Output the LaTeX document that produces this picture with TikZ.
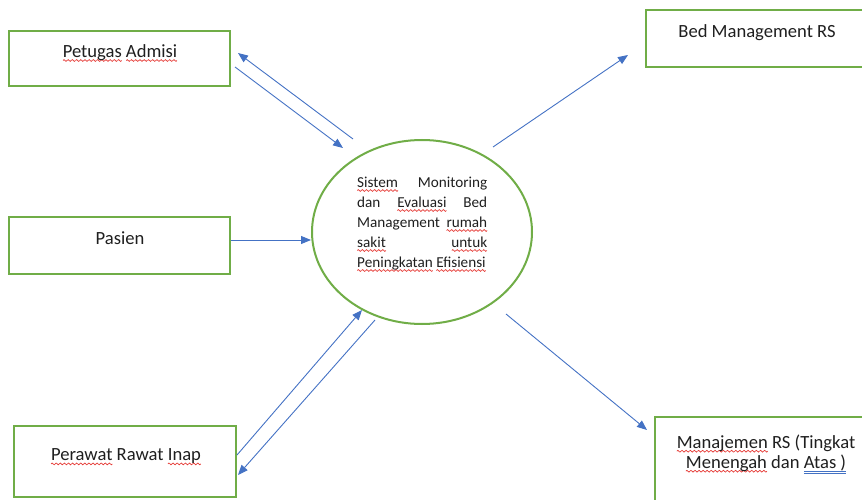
\documentclass[tikz,border=0pt]{standalone}
\usepackage{fontspec}
\setmainfont{Carlito}
\usetikzlibrary{arrows.meta,shapes.geometric}

\definecolor{boxgreen}{HTML}{70AD47}
\definecolor{flowblue}{HTML}{4472C4}
\definecolor{squigred}{HTML}{E53935}
\definecolor{inkgray}{HTML}{1F1F1F}

% spell-check style wavy underline and grammar style double underline
\newsavebox\waveunit
\newsavebox\wordbox
\newcommand\spellwave[1]{\leavevmode\sbox\wordbox{#1}%
  \rlap{\hbox to\wd\wordbox{\xleaders\copy\waveunit\hfil}}\usebox\wordbox}
\newcommand\grammarline[1]{\leavevmode\sbox\wordbox{#1}%
  \rlap{\color{flowblue}\rule[-3.6pt]{\wd\wordbox}{0.6pt}}%
  \rlap{\color{flowblue}\rule[-5.6pt]{\wd\wordbox}{0.6pt}}\usebox\wordbox}

\tikzset{
  entity/.style={draw=boxgreen, line width=2pt, rectangle, inner sep=0pt},
  system/.style={draw=boxgreen, line width=2pt, ellipse, inner sep=0pt,
    minimum width=220pt, minimum height=184pt},
  entlabel/.style={inner sep=0pt, anchor=base, text=inkgray,
    font=\fontsize{18.6}{20}\selectfont},
  syslabel/.style={inner sep=0pt, anchor=base west, text=inkgray,
    text width=130pt, align=justify, font=\fontsize{15.2}{20}\selectfont},
  flow/.style={draw=flowblue, line width=0.9pt,
    -{Triangle[length=10pt,width=8pt]}},
}

\begin{document}
% one period of the wavy underline
\sbox\waveunit{\begin{pgfpicture}
  \pgfsetstrokecolor{squigred}
  \pgfsetlinewidth{0.7pt}
  \pgfpathmoveto{\pgfpoint{0pt}{-3.2pt}}
  \pgfpathsine{\pgfpoint{1pt}{0.9pt}}
  \pgfpathcosine{\pgfpoint{1pt}{-0.9pt}}
  \pgfpathsine{\pgfpoint{1pt}{-0.9pt}}
  \pgfpathcosine{\pgfpoint{1pt}{0.9pt}}
  \pgfusepath{stroke}
  \pgfresetboundingbox
  \pgfpathrectangle{\pgfpoint{0pt}{-4pt}}{\pgfpoint{4pt}{4pt}}
  \pgfusepath{use as bounding box}
  \pgfsetbaseline{0pt}
\end{pgfpicture}}%
\begin{tikzpicture}[x=1pt,y=-1pt]
  \useasboundingbox (0,0) rectangle (862,500);
  \clip (0,0) rectangle (862,500);

  % external entities
  \node[entity, minimum width=221pt, minimum height=55pt] (petugas) at (119.5,58.5) {};
  \node[entity, minimum width=221pt, minimum height=57pt] (pasien) at (119.5,245.5) {};
  \node[entity, minimum width=222pt, minimum height=57pt] (bed) at (757,38.5) {};
  \node[entity, minimum width=222pt, minimum height=93pt] (manaj) at (766,463.5) {};
  \node[entity, minimum width=222pt, minimum height=71pt] (perawat) at (125,461.5) {};

  \node[entlabel] (petugasT) at (120,57.3) {\spellwave{Petugas} \spellwave{Admisi}};
  \node[entlabel] (pasienT) at (120,244.3) {Pasien};
  \node[entlabel] (bedT) at (757,37.3) {Bed Management RS};
  % base of a two-line label is its last line
  \node[entlabel, align=center] (manajT) at (766,468)
    {\spellwave{Manajemen} RS (Tingkat\\\spellwave{Menengah} dan \grammarline{Atas )}};
  \node[entlabel] (perawatT) at (126,460.7) {\spellwave{Perawat} Rawat \spellwave{Inap}};

  % central process
  \node[system] (sys) at (422,232) {};
  \node[syslabel] (sysT) at (357,187.3)
    {\spellwave{Sistem} Monitoring\linebreak
     dan \spellwave{Evaluasi} Bed\linebreak
     Management \spellwave{rumah}\linebreak
     \spellwave{sakit} \spellwave{untuk}\linebreak
     \spellwave{Peningkatan} \spellwave{Efisiensi}};

  % connector end points
  \coordinate (pgBackS) at (353,139);
  \coordinate (pgBackE) at (238,53);
  \coordinate (pgInS) at (235,67);
  \coordinate (pgInE) at (343,148);
  \coordinate (psS) at (231,240);
  \coordinate (psE) at (311,240);
  \coordinate (bedS) at (493,147);
  \coordinate (bedE) at (628,55);
  \coordinate (mjS) at (506,314);
  \coordinate (mjE) at (647,430);
  \coordinate (prUpS) at (237,455);
  \coordinate (prUpE) at (362,310);
  \coordinate (prDnS) at (375,320);
  \coordinate (prDnE) at (238,475);

  % data flows
  \draw[flow] (pgBackS) -- (pgBackE);
  \draw[flow] (pgInS) -- (pgInE);
  \draw[flow] (psS) -- (psE);
  \draw[flow] (bedS) -- (bedE);
  \draw[flow] (mjS) -- (mjE);
  \draw[flow] (prUpS) -- (prUpE);
  \draw[flow] (prDnS) -- (prDnE);
\end{tikzpicture}
\end{document}
